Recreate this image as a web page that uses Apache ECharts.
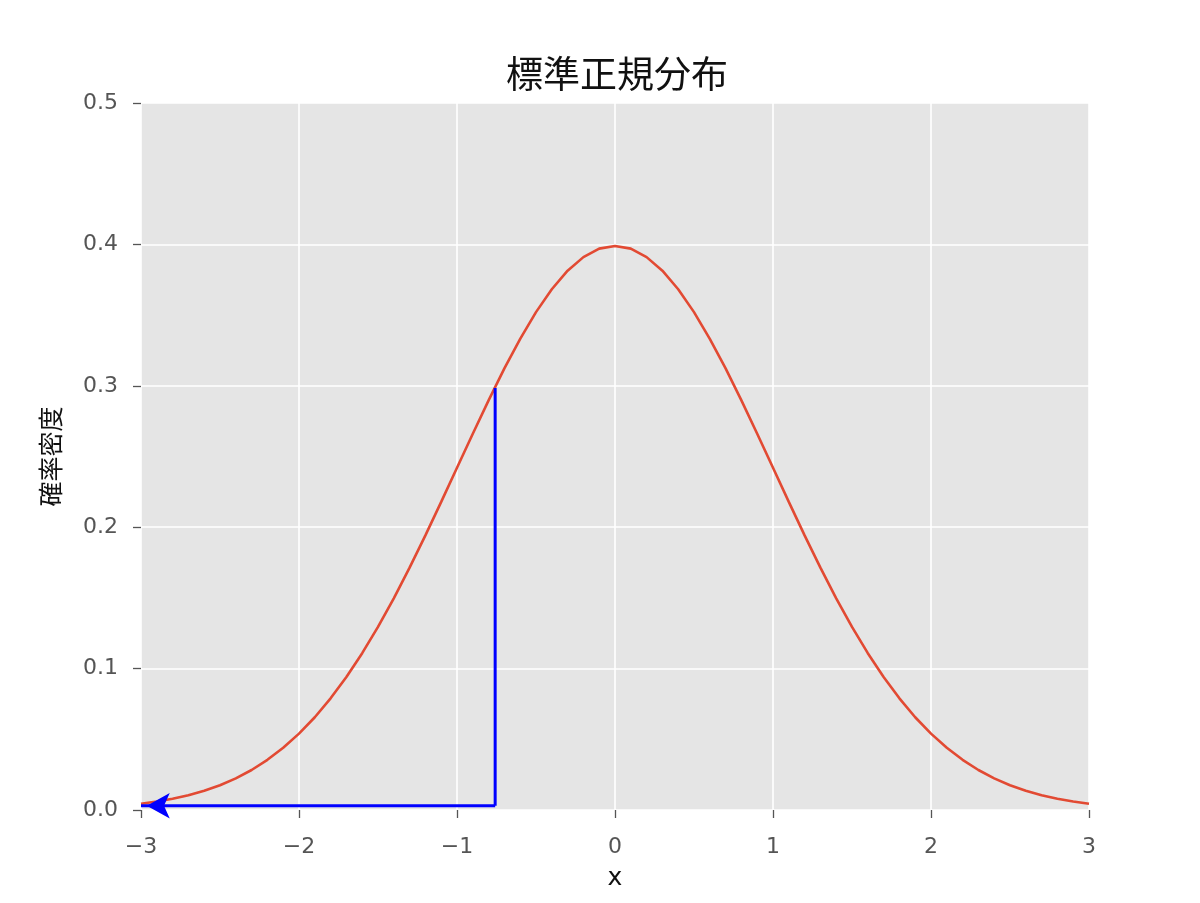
<!DOCTYPE html>
<html><head><meta charset="utf-8">
<script src="https://cdn.jsdelivr.net/npm/echarts@6/dist/echarts.min.js"></script>
<style>html,body{margin:0;padding:0;background:#fff}#c{width:1200px;height:903px}</style>
</head><body><div id="c"></div>
<script>
const xValues = [-3.0,-2.9,-2.8,-2.7,-2.6,-2.5,-2.4,-2.3,-2.2,-2.1,-2.0,-1.9,-1.8,-1.7,-1.6,-1.5,-1.4,-1.3,-1.2,-1.1,-1.0,-0.9,-0.8,-0.7,-0.6,-0.5,-0.4,-0.3,-0.2,-0.1,0.0,0.1,0.2,0.3,0.4,0.5,0.6,0.7,0.8,0.9,1.0,1.1,1.2,1.3,1.4,1.5,1.6,1.7,1.8,1.9,2.0,2.1,2.2,2.3,2.4,2.5,2.6,2.7,2.8,2.9,3.0];
const densityValues = [0.0044,0.0060,0.0079,0.0104,0.0136,0.0175,0.0224,0.0283,0.0355,0.0440,0.0540,0.0656,0.0790,0.0940,0.1109,0.1295,0.1497,0.1714,0.1942,0.2179,0.2420,0.2661,0.2897,0.3123,0.3332,0.3521,0.3683,0.3814,0.3910,0.3970,0.3989,0.3970,0.3910,0.3814,0.3683,0.3521,0.3332,0.3123,0.2897,0.2661,0.2420,0.2179,0.1942,0.1714,0.1497,0.1295,0.1109,0.0940,0.0790,0.0656,0.0540,0.0440,0.0355,0.0283,0.0224,0.0175,0.0136,0.0104,0.0079,0.0060,0.0044];
const vLine = [[-0.7585, 0.2985], [-0.7585, 0.003]];
const hArrow = [[-0.7585, 0.003], [-3.0, 0.003]];
const xTicks = [-3, -2, -1, 0, 1, 2, 3];
const yTicks = [0.0, 0.1, 0.2, 0.3, 0.4, 0.5];
const titleText = '標準正規分布';
const xLabel = 'x';
const yLabel = '確率密度';

const chart = echarts.init(document.getElementById('c'));
const tickFont = {color: '#555555', fontSize: 22, fontFamily: 'DejaVu Sans'};
const tickStyle = {show: true, length: 8, lineStyle: {color: '#555555', width: 1.3}};
chart.setOption({
  animation: false,
  backgroundColor: '#ffffff',
  title: {text: titleText, left: 612, top: 50, textAlign: 'center',
    textStyle: {fontFamily: 'Noto Sans CJK JP', fontSize: 37, fontWeight: 'normal', color: '#111111'}},
  grid: {left: 141, right: 111, top: 103, bottom: 93, show: true, backgroundColor: '#E5E5E5', borderWidth: 0},
  xAxis: {type: 'value', min: xTicks[0], max: xTicks[xTicks.length-1], interval: 1,
    name: xLabel, nameLocation: 'middle', nameGap: 56,
    nameTextStyle: {fontFamily: 'DejaVu Sans', fontSize: 25, color: '#111111'},
    axisLine: {show: false, onZero: false},
    axisTick: tickStyle,
    axisLabel: Object.assign({margin: 26, formatter: v => String(v).replace('-', '\u2212')}, tickFont),
    splitLine: {show: true, lineStyle: {color: '#ffffff', width: 1.6}}},
  yAxis: {type: 'value', min: yTicks[0], max: yTicks[yTicks.length-1], interval: 0.1,
    name: yLabel, nameLocation: 'middle', nameGap: 78, nameRotate: 90,
    nameTextStyle: {fontFamily: 'Noto Sans CJK JP', fontSize: 25, color: '#111111'},
    axisLine: {show: false, onZero: false},
    axisTick: tickStyle,
    axisLabel: Object.assign({margin: 23, formatter: v => v.toFixed(1)}, tickFont),
    splitLine: {show: true, lineStyle: {color: '#ffffff', width: 1.6}}},
  series: [
    {type: 'line', data: xValues.map((x, i) => [x, densityValues[i]]), showSymbol: false, symbol: 'none',
      lineStyle: {color: '#E24A33', width: 2.6}, z: 3},
    {type: 'line', data: vLine, showSymbol: false, symbol: 'none',
      lineStyle: {color: '#0000ff', width: 3}, z: 4},
    {type: 'line', data: hArrow, showSymbol: false, symbol: 'none',
      lineStyle: {color: '#0000ff', width: 3}, z: 4},
    {type: 'scatter', data: [hArrow[1]], symbol: 'arrow', symbolSize: [19, 23], symbolRotate: 90,
      symbolOffset: [5.75, 0], itemStyle: {color: '#0000ff', opacity: 1}, z: 5, silent: true, clip: false}
  ]
});
</script></body></html>
